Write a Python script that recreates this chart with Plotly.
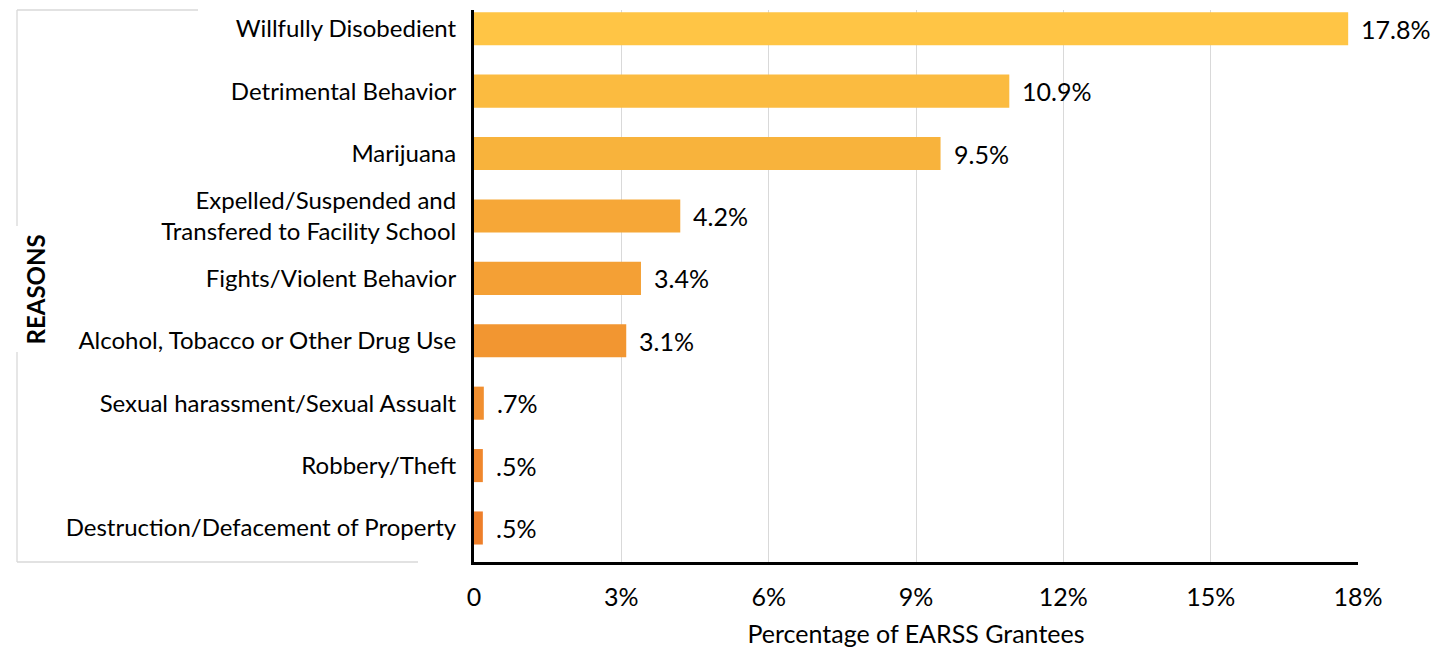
import plotly.graph_objects as go

categories = [
    "Willfully Disobedient",
    "Detrimental Behavior",
    "Marijuana",
    "Expelled/Suspended and<br>Transfered to Facility School",
    "Fights/Violent Behavior",
    "Alcohol, Tobacco or Other Drug Use",
    "Sexual harassment/Sexual Assualt",
    "Robbery/Theft",
    "Destruction/Defacement of Property",
]
values = [17.8, 10.9, 9.5, 4.2, 3.4, 3.1, 0.2, 0.18, 0.18]
value_labels = ["17.8%", "10.9%", "9.5%", "4.2%", "3.4%", "3.1%", ".7%", ".5%", ".5%"]
bar_colors = ["#FFC545", "#FBBB40", "#F8B33C", "#F6A737", "#F4A035",
              "#F29631", "#F18F30", "#F0872D", "#EE7F2A"]
x_ticks = [0, 3, 6, 9, 12, 15, 18]
x_tick_labels = ["0", "3%", "6%", "9%", "12%", "15%", "18%"]

OFF = 8  # page body margin
W, H = 1452 - OFF, 654 - OFF
L, R, T, B = 474 - OFF, 94, 10 - OFF, 92
FONT = "Lato"

n = len(categories)
ypos = [n - 1 - i for i in range(n)]

fig = go.Figure()
fig.add_trace(go.Bar(
    x=values, y=ypos, orientation="h",
    marker=dict(color=bar_colors, line=dict(width=0)),
    width=0.53, hoverinfo="skip",
))

for v, yv, t in zip(values, ypos, value_labels):
    fig.add_annotation(x=v, y=yv, text=t, showarrow=False, xanchor="left",
                       xshift=11, font=dict(size=25, color="#000000", family=FONT))

# screen pixel -> paper helpers
pw, ph = W - L - R, H - T - B
def px(x):
    return (x - OFF - L) / pw
def py(y):
    return (H - B - (y - OFF)) / ph

frame = dict(color="#D9D9D9", width=1.3)
for (x0, y0, x1, y1) in [(17, 10, 198, 10), (17, 10, 17, 226), (17, 352, 17, 562), (17, 562, 418, 562)]:
    fig.add_shape(type="line", xref="paper", yref="paper",
                  x0=px(x0), y0=py(y0), x1=px(x1), y1=py(y1), line=frame)

fig.add_annotation(xref="paper", yref="paper", x=px(18), y=py(289), text="<b>REASONS</b>",
                   textangle=-90, showarrow=False, font=dict(size=24, color="#000000", family=FONT))

fig.update_layout(
    width=W, height=H,
    margin=dict(l=L, r=R, t=T, b=B),
    plot_bgcolor="white", paper_bgcolor="white",
    showlegend=False,
    font=dict(family=FONT, size=24, color="#000000"),
    xaxis=dict(
        range=[0, 18.0001], tickvals=x_ticks, ticktext=x_tick_labels,
        showgrid=True, gridcolor="#D9D9D9", gridwidth=1.3,
        showline=True, linecolor="#000000", linewidth=3,
        ticks="outside", ticklen=11, tickcolor="rgba(0,0,0,0)",
        zeroline=False,
        tickfont=dict(size=25, family=FONT),
        title=dict(text="Percentage of EARSS Grantees", standoff=16,
                   font=dict(size=25, family=FONT)),
    ),
    yaxis=dict(
        range=[-0.545, 8.30], tickvals=ypos, ticktext=categories,
        showgrid=False, showline=True, linecolor="#000000", linewidth=3,
        ticks="outside", ticklen=10, tickcolor="rgba(0,0,0,0)",
        zeroline=False, tickfont=dict(size=24, family=FONT),
    ),
)

fig.write_html("out.html")
